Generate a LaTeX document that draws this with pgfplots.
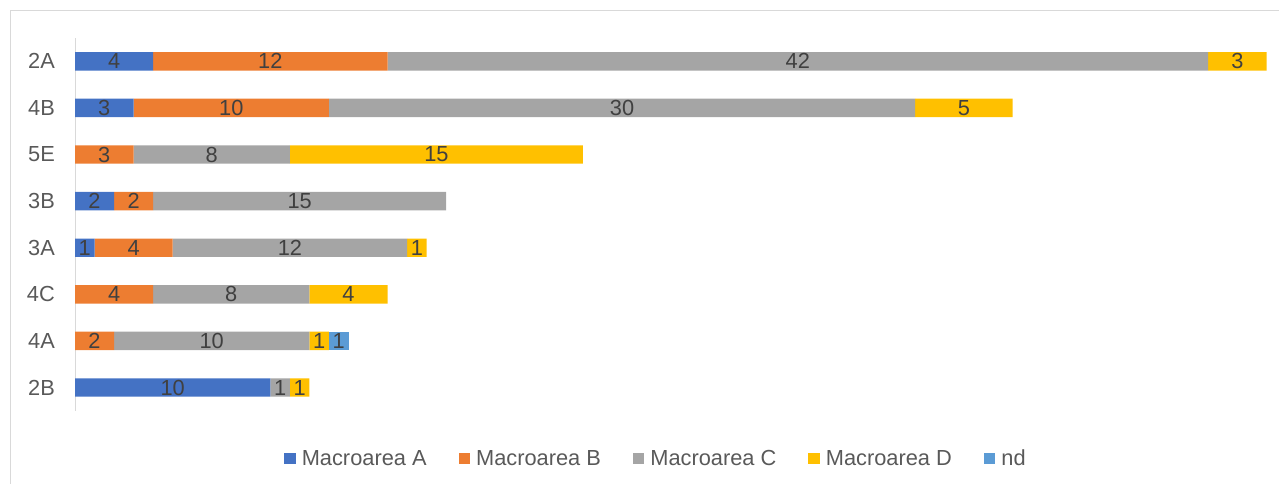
\documentclass[border=0pt]{standalone}
\usepackage{pgfplots}
\pgfplotsset{compat=1.18}
\usepackage{pgfplotstable}
\usepackage{fontspec}
\setmainfont{Liberation Sans}
\definecolor{cA}{HTML}{4472C4}
\definecolor{cB}{HTML}{ED7D31}
\definecolor{cC}{HTML}{A5A5A5}
\definecolor{cD}{HTML}{FFC000}
\definecolor{cN}{HTML}{5B9BD5}
\definecolor{lbl}{HTML}{404040}
\definecolor{tickc}{HTML}{595959}
\definecolor{linec}{HTML}{D9D9D9}
\newcommand\chartfont{\fontsize{21.8}{25}\selectfont}
\tikzset{
  centerlabel/.code={%
    \pgfmathfloatifflags{\pgfplotspointmeta}{0}{\pgfkeysalso{/tikz/coordinate}}{%
      \pgfkeysalso{/tikz/anchor=center}}%
  },
}
\pgfplotsset{
  mylegend/.style={legend image code/.code={\fill[##1,draw=none] (0pt,-5.75pt) rectangle (11.5pt,5.75pt);}},
}
% rows: y = 0 (2B) ... 7 (2A)
\pgfplotstableread{
y  A  B  C  D  nd
0  10 0  1  1  0
1  0  2  10 1  1
2  0  4  8  4  0
3  1  4  12 1  0
4  2  2  15 0  0
5  0  3  8  15 0
6  3  10 30 5  0
7  4  12 42 3  0
}\datatable
\begin{document}
\begin{tikzpicture}
\useasboundingbox (0,0) rectangle (1279pt,483pt);
\draw[linec, line width=1pt] (10.5pt,-10pt) -- (10.5pt,472.5pt) -- (1300pt,472.5pt);
\begin{axis}[
  at={(75pt,72.2pt)}, anchor=south west,
  scale only axis, width=1191.7pt, height=372.8pt,
  xbar stacked, bar width=18.4pt,
  xmin=0, xmax=61, ymin=-0.5, ymax=7.5, enlargelimits=false,
  axis x line=none, axis y line*=left,
  y axis line style={linec, line width=1pt},
  ytick={0,...,7}, yticklabels={2B,4A,4C,3A,3B,5E,4B,2A},
  major tick length=0pt,
  yticklabel style={font=\chartfont, text=tickc, inner sep=0pt, xshift=-20pt},
  /pgf/number format/assume math mode=true,
  point meta=explicit,
  nodes near coords,
  every node near coord/.append style={font=\chartfont, text=lbl, inner sep=0pt, centerlabel},
  legend columns=-1,
  legend style={draw=none, fill=none, font=\chartfont, text=tickc,
    at={(axis description cs:0.4867,-0.128)}, anchor=center,
    /tikz/every odd column/.append style={column sep=6pt},
    /tikz/every even column/.append style={column sep=32pt},
    nodes={inner sep=0pt}},
]
\addplot[fill=cA, draw=none, mylegend] table[x=A, y=y, meta=A]{\datatable};
\addplot[fill=cB, draw=none, mylegend] table[x=B, y=y, meta=B]{\datatable};
\addplot[fill=cC, draw=none, mylegend] table[x=C, y=y, meta=C]{\datatable};
\addplot[fill=cD, draw=none, mylegend] table[x=D, y=y, meta=D]{\datatable};
\addplot[fill=cN, draw=none, mylegend] table[x=nd, y=y, meta=nd]{\datatable};
\legend{Macroarea A, Macroarea B, Macroarea C, Macroarea D, nd}
\end{axis}
\end{tikzpicture}
\end{document}
